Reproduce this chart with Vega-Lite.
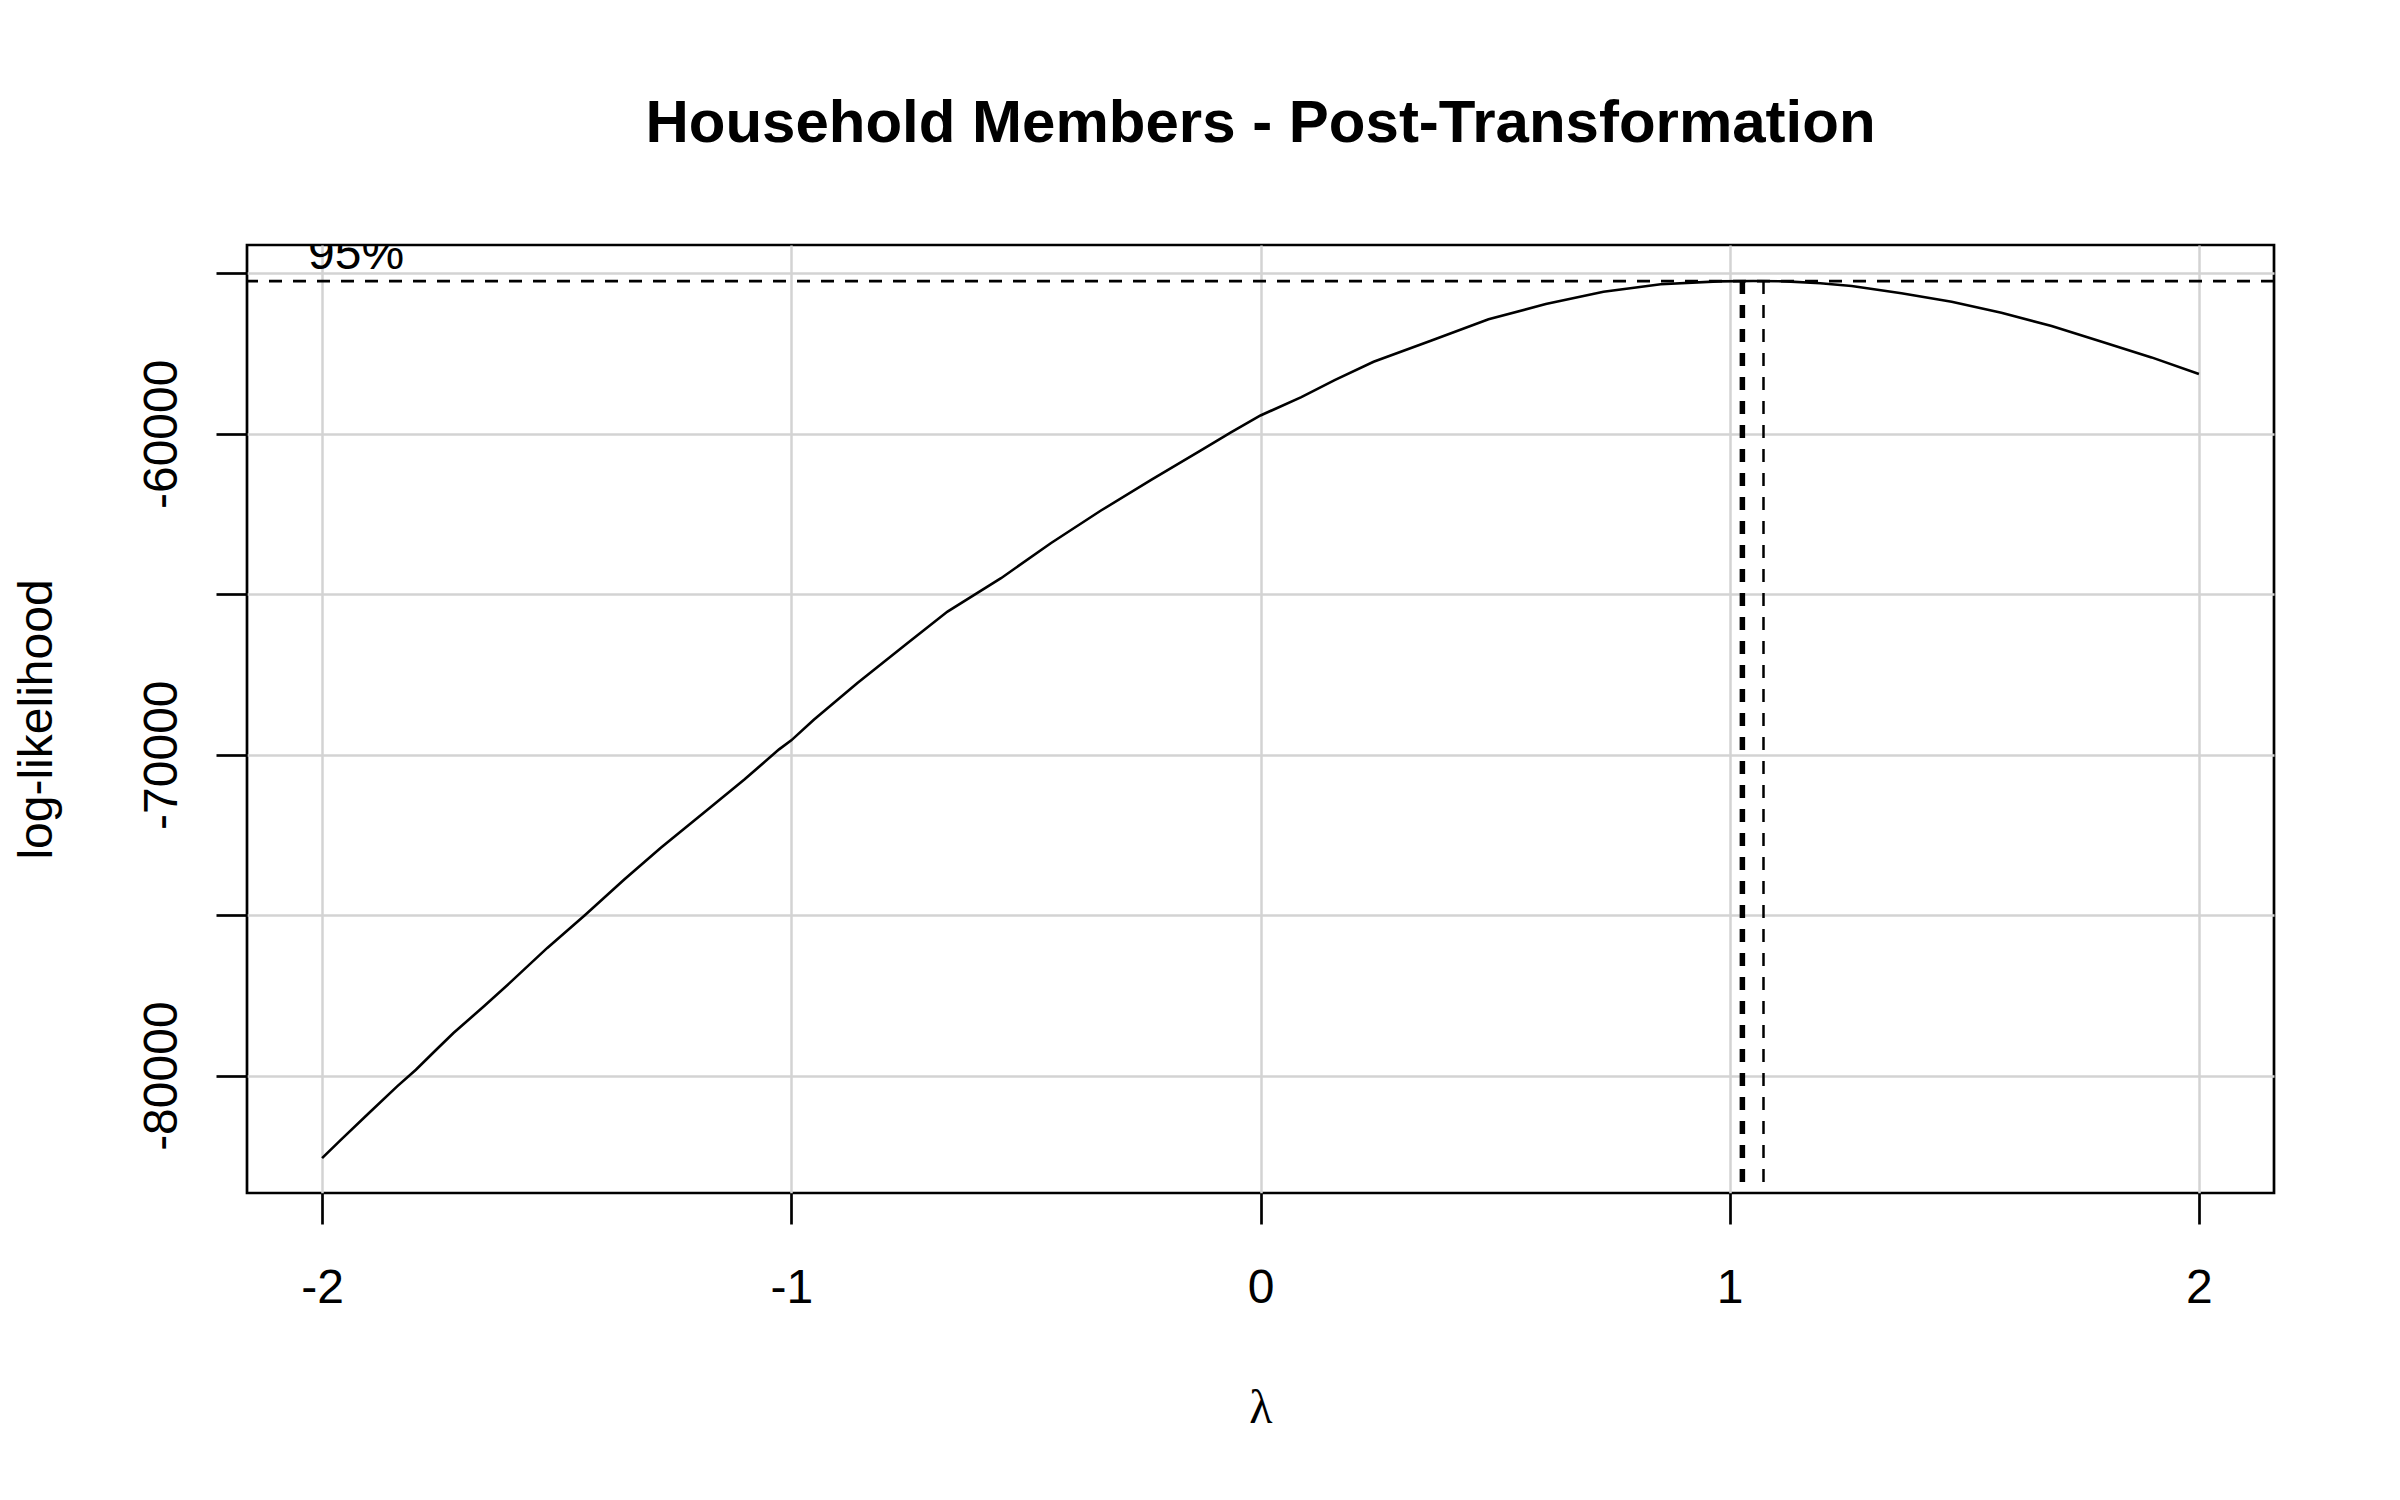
{
  "$schema": "https://vega.github.io/schema/vega-lite/v6.json",
  "width": 2027,
  "height": 948,
  "autosize": {"type": "none"},
  "padding": {"left": 247, "top": 245, "right": 126, "bottom": 307},
  "background": "white",
  "config": {
    "font": "Liberation Sans",
    "view": {"stroke": "black", "strokeWidth": 2.7},
    "axis": {
      "labelFont": "Liberation Sans",
      "labelFontSize": 48,
      "labelColor": "black",
      "tickColor": "black",
      "tickSize": 31,
      "tickWidth": 2.7,
      "domain": false,
      "gridColor": "#d3d3d3",
      "gridWidth": 2.5,
      "gridOpacity": 1
    }
  },
  "title": {
    "text": "Household Members - Post-Transformation",
    "font": "Liberation Sans",
    "fontSize": 60,
    "fontWeight": "bold",
    "color": "black",
    "anchor": "middle",
    "frame": "group",
    "baseline": "alphabetic",
    "offset": 43
  },
  "datasets": {
    "profile": [
      {"lambda": -2.0, "loglik": -82570},
      {"lambda": -1.96, "loglik": -82000},
      {"lambda": -1.9, "loglik": -81165},
      {"lambda": -1.84, "loglik": -80335},
      {"lambda": -1.8, "loglik": -79815},
      {"lambda": -1.76, "loglik": -79240},
      {"lambda": -1.72, "loglik": -78670},
      {"lambda": -1.655, "loglik": -77840},
      {"lambda": -1.6, "loglik": -77110},
      {"lambda": -1.52, "loglik": -76020},
      {"lambda": -1.44, "loglik": -75000},
      {"lambda": -1.356, "loglik": -73890},
      {"lambda": -1.278, "loglik": -72900},
      {"lambda": -1.178, "loglik": -71705},
      {"lambda": -1.1, "loglik": -70770},
      {"lambda": -1.026, "loglik": -69834},
      {"lambda": -1.0, "loglik": -69553},
      {"lambda": -0.952, "loglik": -68909},
      {"lambda": -0.859, "loglik": -67765},
      {"lambda": -0.752, "loglik": -66518},
      {"lambda": -0.667, "loglik": -65541},
      {"lambda": -0.553, "loglik": -64501},
      {"lambda": -0.447, "loglik": -63410},
      {"lambda": -0.34, "loglik": -62391},
      {"lambda": -0.233, "loglik": -61434},
      {"lambda": -0.127, "loglik": -60520},
      {"lambda": -0.063, "loglik": -59958},
      {"lambda": 0.0, "loglik": -59430},
      {"lambda": 0.087, "loglik": -58857},
      {"lambda": 0.158, "loglik": -58330},
      {"lambda": 0.241, "loglik": -57755},
      {"lambda": 0.363, "loglik": -57100},
      {"lambda": 0.486, "loglik": -56435},
      {"lambda": 0.608, "loglik": -55956},
      {"lambda": 0.731, "loglik": -55572},
      {"lambda": 0.853, "loglik": -55343},
      {"lambda": 0.976, "loglik": -55250},
      {"lambda": 1.05, "loglik": -55239},
      {"lambda": 1.12, "loglik": -55250},
      {"lambda": 1.193, "loglik": -55312},
      {"lambda": 1.26, "loglik": -55395},
      {"lambda": 1.366, "loglik": -55624},
      {"lambda": 1.473, "loglik": -55884},
      {"lambda": 1.579, "loglik": -56227},
      {"lambda": 1.686, "loglik": -56642},
      {"lambda": 1.793, "loglik": -57131},
      {"lambda": 1.899, "loglik": -57620},
      {"lambda": 2.0, "loglik": -58139}
    ],
    "cutoff": [{"loglik": -55241, "label": "95%", "lambda": -2.03, "labelY": -54866}],
    "limits": [
      {"lambda": 1.027, "loglik": -55241, "line": "lower"},
      {"lambda": 1.072, "loglik": -55241, "line": "upper"}
    ]
  },
  "encoding": {
    "x": {
      "field": "lambda",
      "type": "quantitative",
      "scale": {"domain": [-2.16, 2.16], "nice": false, "zero": false},
      "axis": {
        "values": [-2, -1, 0, 1, 2],
        "labelExpr": "'' + datum.value",
        "labelPadding": 78,
        "labelBaseline": "alphabetic",
        "title": "λ",
        "titleFont": "Liberation Serif",
        "titleFontSize": 48,
        "titleFontWeight": "normal",
        "titleColor": "black",
        "titleBaseline": "alphabetic",
        "titleY": 229
      }
    },
    "y": {
      "field": "loglik",
      "type": "quantitative",
      "scale": {"domain": [-83657, -54118], "nice": false, "zero": false},
      "axis": {
        "values": [-80000, -75000, -70000, -65000, -60000, -55000],
        "labelExpr": "datum.value % 10000 === 0 ? '' + datum.value : ''",
        "labelAngle": -90,
        "labelAlign": "center",
        "labelBaseline": "alphabetic",
        "labelPadding": 40,
        "title": "log-likelihood",
        "titleFont": "Liberation Sans",
        "titleFontSize": 48,
        "titleFontWeight": "normal",
        "titleColor": "black",
        "titleAngle": -90,
        "titleAlign": "center",
        "titleBaseline": "alphabetic",
        "titleX": -196,
        "titleY": 474
      }
    }
  },
  "layer": [
    {
      "data": {"name": "profile"},
      "mark": {"type": "line", "color": "black", "strokeWidth": 2.6},
      "encoding": {"order": {"field": "lambda", "type": "quantitative"}}
    },
    {
      "data": {"name": "cutoff"},
      "mark": {"type": "rule", "color": "black", "strokeWidth": 2.7, "strokeDash": [13, 11]},
      "encoding": {"x": null}
    },
    {
      "data": {"name": "cutoff"},
      "mark": {"type": "text", "clip": true, "align": "left", "baseline": "alphabetic", "fontSize": 48, "font": "Liberation Sans", "color": "black"},
      "encoding": {
        "y": {"field": "labelY", "type": "quantitative"},
        "text": {"field": "label"}
      }
    },
    {
      "data": {"name": "limits"},
      "transform": [{"filter": "datum.line === 'lower'"}],
      "mark": {"type": "rule", "color": "black", "strokeWidth": 5.5, "strokeDash": [13, 11]},
      "encoding": {"y2": {"datum": -83657}}
    },
    {
      "data": {"name": "limits"},
      "transform": [{"filter": "datum.line === 'upper'"}],
      "mark": {"type": "rule", "color": "black", "strokeWidth": 2.5, "strokeDash": [13, 11]},
      "encoding": {"y2": {"datum": -83657}}
    }
  ]
}
